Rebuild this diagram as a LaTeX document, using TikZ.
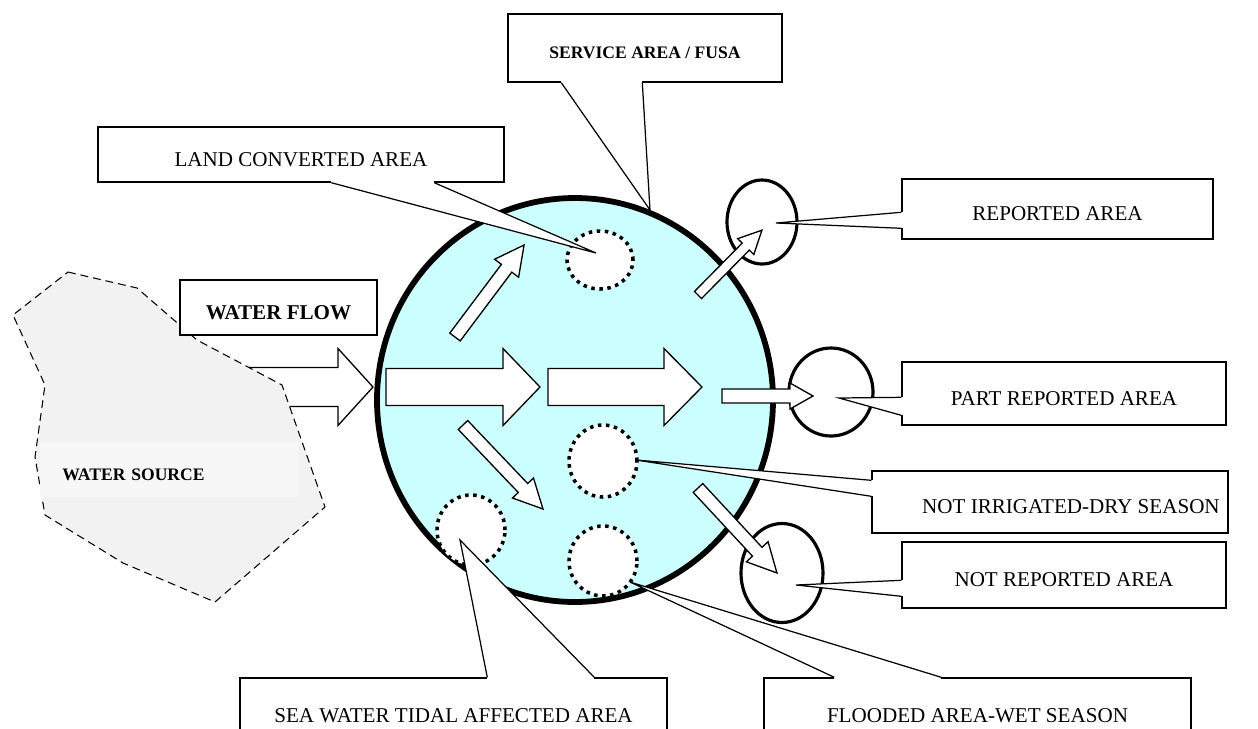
\documentclass[tikz,border=0pt]{standalone}
\usepackage{fontspec}
\setmainfont{Liberation Serif}
\usetikzlibrary{calc,shapes.geometric}
\newcommand{\pxu}{0.02cm}
\definecolor{cielito}{RGB}{204,255,255}
\definecolor{grisito}{RGB}{242,242,242}
\definecolor{grisclarito}{RGB}{247,247,247}
\tikzset{
  callbox/.style={draw, fill=white, line width=0.8pt, inner sep=0pt, font=\fontsize{12}{14}\selectfont, text height=13.5pt, text depth=0pt},
  boxsize/.style 2 args={minimum width=#1*\pxu, minimum height=#2*\pxu},
  arrowbox/.style={draw, fill=white, line width=0.75pt, line join=miter},
  ptrline/.style={line width=0.7pt},
  dotcircle/.style={ellipse, draw, fill=white, line width=2pt, dash pattern=on 2pt off 2.6pt, inner sep=0pt},
  solidcircle/.style={ellipse, draw, fill=white, line width=1.8pt, inner sep=0pt}
}
\newcommand{\blockarrow}[6]{\draw[arrowbox, shift={#1}, rotate=#2] (0,-#4) -- ({#3-#6},-#4) -- ({#3-#6},-#5) -- (#3,0) -- ({#3-#6},#5) -- ({#3-#6},#4) -- (0,#4) -- cycle;}
\newcommand{\calloutptr}[3]{\fill[white] (#1) -- (#2) -- (#3) -- cycle; \draw[white, line width=1.4pt] (#1) -- (#3); \draw[ptrline] (#1) -- (#2) -- (#3);}

\begin{document}
\begin{tikzpicture}[x=\pxu, y=-\pxu]
  \useasboundingbox (0,0) rectangle (1258,728);
  \clip (0,0) rectangle (1258,728);

  \blockarrow{(240,387)}{0}{133}{19.5}{38.5}{35}
  \draw[dash pattern=on 4.5pt off 2.8pt, line width=0.6pt, fill=grisito] (68,272) -- (137,288) -- (197,340) -- (282,385) -- (325,507) -- (215,602) -- (123,563) -- (45,515) -- (35,457) -- (45,385) -- (13,315) -- cycle;
  \node[fill=grisclarito, inner xsep=22*\pxu, inner ysep=0pt, text width=214*\pxu, align=left, minimum height=55*\pxu, text height=12.8pt, text depth=0pt, anchor=west, font=\fontsize{10}{12}\selectfont\bfseries] (src) at (40,469.5) {WATER SOURCE};
  \node[callbox, boxsize={197}{55}, font=\fontsize{12}{14}\selectfont\bfseries] (flow) at (278.5,307.5) {WATER FLOW};

  \node[ellipse, draw, fill=cielito, line width=3.3pt, minimum width=396*\pxu, minimum height=404*\pxu, inner sep=0pt] (fusa) at (575,400) {};
  \node[dotcircle, boxsize={66}{58}] (landhole) at (600,260) {};
  \node[dotcircle, boxsize={68}{72}] (dryhole) at (603,461) {};
  \node[dotcircle, boxsize={68}{70}] (wethole) at (603,561) {};
  \node[dotcircle, boxsize={68}{70}] (seahole) at (471,530) {};
  \node[solidcircle, boxsize={70}{84}] (repring) at (762,222) {};
  \node[solidcircle, boxsize={84}{88}] (partring) at (831,392) {};
  \node[solidcircle, boxsize={82}{99}] (notring) at (782,573) {};

  \blockarrow{(386,387)}{0}{154}{18.5}{38.5}{37}
  \blockarrow{(548,387)}{0}{154}{18.5}{38.5}{38}
  \blockarrow{(722,396)}{0}{91}{7}{13}{23}
  \blockarrow{(455,337)}{53.1}{115}{6.5}{15}{29}
  \blockarrow{(698,295)}{45.4}{91}{5}{11.3}{23}
  \blockarrow{(463,425)}{-46.4}{116}{6.5}{14.5}{29}
  \blockarrow{(698,488)}{-47.1}{116}{6.5}{14.8}{29}

  \coordinate (svctip) at (650,210);
  \coordinate (landtip) at (596,253);
  \coordinate (reptip) at (776,223);
  \coordinate (parttip) at (839,398);
  \coordinate (drytip) at (636,460);
  \coordinate (nottip) at (796,585);
  \coordinate (wettip) at (630,582);
  \coordinate (seatip) at (460,540);

  \node[callbox, boxsize={274}{68}, text height=11.5pt, font=\fontsize{10}{12}\selectfont\bfseries] (svc) at (645,48) {SERVICE AREA / FUSA};
  \calloutptr{$(svc.south west)+(54,0)$}{svctip}{$(svc.south west)+(135,0)$}
  \node[callbox, boxsize={406}{55}] (land) at (301,154.5) {LAND CONVERTED AREA};
  \calloutptr{$(land.south west)+(234,0)$}{landtip}{$(land.south west)+(337,0)$}
  \node[callbox, boxsize={311}{60}] (rep) at (1057.5,209) {REPORTED AREA};
  \calloutptr{$(rep.north west)+(0,34)$}{reptip}{$(rep.north west)+(0,50)$}
  \node[callbox, boxsize={324}{63}] (part) at (1064,393.5) {PART REPORTED AREA};
  \calloutptr{$(part.north west)+(0,36)$}{parttip}{$(part.north west)+(0,54)$}
  \node[callbox, boxsize={356}{62}] (dry) at (1050,502) {\hspace*{0.84cm}NOT IRRIGATED-DRY SEASON};
  \calloutptr{$(dry.north west)+(0,10)$}{drytip}{$(dry.north west)+(0,26)$}
  \node[callbox, boxsize={324}{66}] (notrep) at (1064,575) {NOT REPORTED AREA};
  \calloutptr{$(notrep.north west)+(0,39)$}{nottip}{$(notrep.north west)+(0,55)$}
  \node[callbox, boxsize={427}{66}] (wet) at (977.5,711) {FLOODED AREA-WET SEASON};
  \calloutptr{$(wet.north west)+(71,0)$}{wettip}{$(wet.north west)+(178,0)$}
  \node[callbox, boxsize={427}{66}] (sea) at (453.5,711) {SEA WATER TIDAL AFFECTED AREA};
  \calloutptr{$(sea.north west)+(248,0)$}{seatip}{$(sea.north west)+(355,0)$}
\end{tikzpicture}
\end{document}
